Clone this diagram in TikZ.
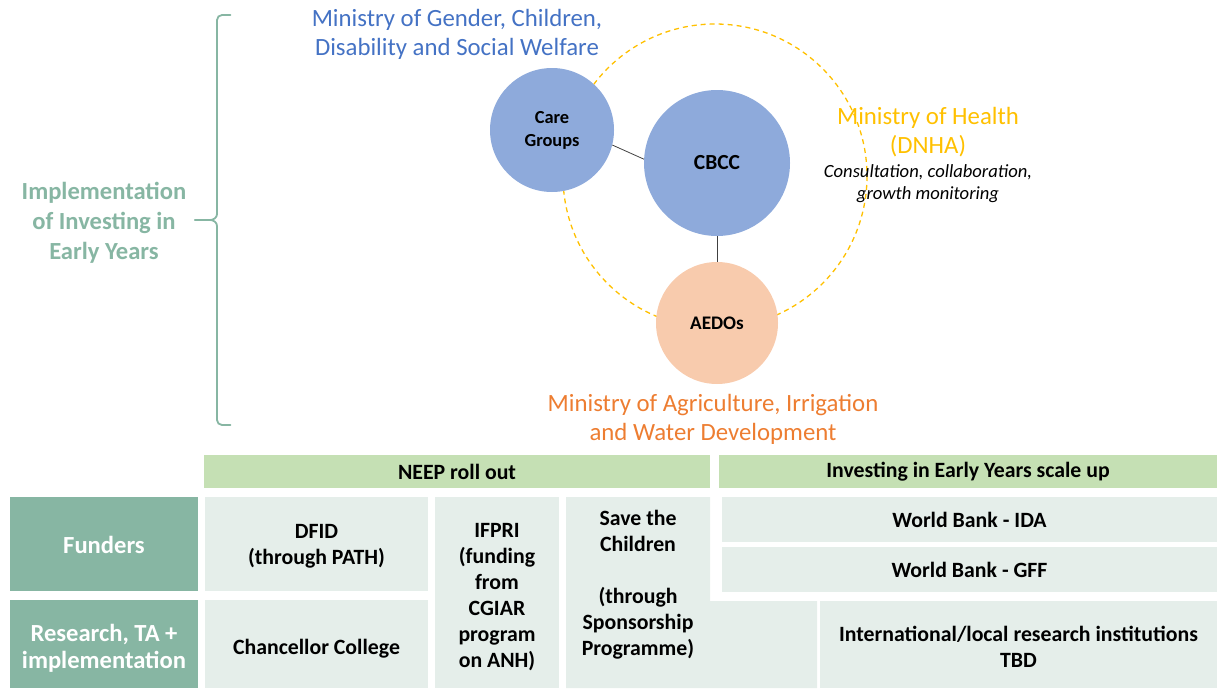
\documentclass[tikz,border=0pt]{standalone}
\usepackage{fontspec}
\setmainfont{Carlito}
\definecolor{cellc}{HTML}{E5EEEA}
\definecolor{headc}{HTML}{C5E0B4}
\definecolor{tealc}{HTML}{87B6A3}
\definecolor{circblue}{HTML}{8EAADB}
\definecolor{peach}{HTML}{F8CBAD}
\definecolor{goldc}{HTML}{FFC000}
\definecolor{bluetxt}{HTML}{4472C4}
\definecolor{orangetxt}{HTML}{ED7D31}
\definecolor{linkc}{HTML}{404040}
\begin{document}
\begin{tikzpicture}[x=1pt,y=-1pt,
  cellbox/.style={fill=cellc, inner sep=0pt},
  headbox/.style={fill=headc, inner sep=0pt, align=center, text=black,
    font=\bfseries\fontsize{21.8}{26}\selectfont},
  rowbox/.style={fill=tealc, inner sep=0pt},
  celltext/.style={inner sep=0pt, align=center, text=black,
    font=\bfseries\fontsize{21.8}{26}\selectfont},
  rowtext/.style={inner sep=0pt, align=center, text=white,
    font=\bfseries\fontsize{24.6}{27}\selectfont},
  circ/.style={circle, inner sep=0pt, align=center, text=black,
    font=\bfseries\fontsize{18.4}{23}\selectfont},
  ministry/.style={align=center, inner sep=0pt, font=\fontsize{24.8}{29}\selectfont},
  link/.style={draw=linkc, line width=0.8pt}
]
\useasboundingbox (0,0) rectangle (1217,688);

% dashed ring (behind)
\draw[goldc, line width=1.3pt, dash pattern=on 5pt off 4pt] (715,176) circle[radius=152];

% circles
\node[circ, fill=circblue, minimum size=124pt] (care) at (552,130) {Care\\Groups};
\node[circ, fill=circblue, minimum size=146pt, font=\bfseries\fontsize{21.5}{23}\selectfont] (cbcc) at (717,163) {CBCC};
\node[circ, fill=peach, minimum size=122pt, font=\bfseries\fontsize{19.2}{23}\selectfont] (aedos) at (717,323) {AEDOs};

\draw[link] (care.-14) -- (cbcc.177);
\draw[link] (cbcc.south) -- (aedos.north);

% ministries
\node[ministry, text=bluetxt] (gender) at (457,34) {Ministry of Gender, Children,\\Disability and Social Welfare};
\node[ministry, text=goldc] (health) at (928,132) {Ministry of Health\\(DNHA)};
\node[align=center, inner sep=0pt, font=\itshape\fontsize{18.6}{22}\selectfont] (consult) at (928,184) {Consultation, collaboration,\\growth monitoring};
\node[ministry, text=orangetxt] (agri) at (713,419) {Ministry of Agriculture, Irrigation\\and Water Development};

% implementation label and brace
\node[align=center, inner sep=0pt, text=tealc, font=\bfseries\fontsize{24.6}{30}\selectfont] (impl) at (104,223) {Implementation\\of Investing in\\Early Years};
\coordinate (btop) at (230.5,15);
\coordinate (bbot) at (230.5,425);
\coordinate (btip) at (195,220);
\draw[tealc, line width=1.8pt, line cap=round]
  (btop) -- (222,15) to[out=180,in=90] (217,20) -- (217,214)
  to[out=-90,in=0] (210,220) -- (btip);
\draw[tealc, line width=1.8pt, line cap=round]
  (btip) -- (210,220) to[out=0,in=90] (217,226) -- (217,420)
  to[out=-90,in=180] (222,425) -- (bbot);

% headers
\node[headbox, minimum width=506pt, minimum height=33pt] (neep) at (457,471.5) {NEEP roll out};
\node[headbox, minimum width=498pt, minimum height=33pt] (iey) at (968,471.5) {Investing in Early Years scale up};

% row labels
\node[rowbox, minimum width=188pt, minimum height=94pt] (funders) at (104,544) {};
\node[rowtext] (fundersT) at ([yshift=-1pt]funders.center) {Funders};
\node[rowbox, minimum width=188pt, minimum height=88pt] (research) at (104,644) {};
\node[rowtext] (researchT) at ([yshift=-4pt]research.center) {Research, TA +\\implementation};

% cells
\node[cellbox, minimum width=223pt, minimum height=94pt] (dfid) at (316.5,544) {};
\node[celltext] (dfidT) at ([yshift=-2pt]dfid.center) {DFID\\(through PATH)};
\node[cellbox, minimum width=223pt, minimum height=88pt] (chanc) at (316.5,644) {};
\node[celltext] (chancT) at ([yshift=-5pt]chanc.center) {Chancellor College};
\node[cellbox, minimum width=124pt, minimum height=191pt] (ifpri) at (497,592.5) {};
\node[celltext] (ifpriT) at ([yshift=-5pt]ifpri.center) {IFPRI\\(funding\\from\\CGIAR\\program\\on ANH)};
\fill[cellc] (566,497) -- (710,497) -- (710,601) -- (817,601) -- (817,688) -- (566,688) -- cycle;
\node[celltext] (save) at (638,585) {Save the\\Children\\[26pt](through\\Sponsorship\\Programme)};
\node[cellbox, minimum width=495pt, minimum height=45pt] (wbida) at (969.5,519.5) {};
\node[celltext] (wbidaT) at (wbida.center) {World Bank - IDA};
\node[cellbox, minimum width=495pt, minimum height=45pt] (wbgff) at (969.5,569.5) {};
\node[celltext] (wbgffT) at (wbgff.center) {World Bank - GFF};
\node[cellbox, minimum width=397pt, minimum height=87pt] (intl) at (1018.5,644.5) {};
\node[celltext] (intlT) at ([yshift=-2pt]intl.center) {International/local research institutions\\TBD};
\end{tikzpicture}
\end{document}
